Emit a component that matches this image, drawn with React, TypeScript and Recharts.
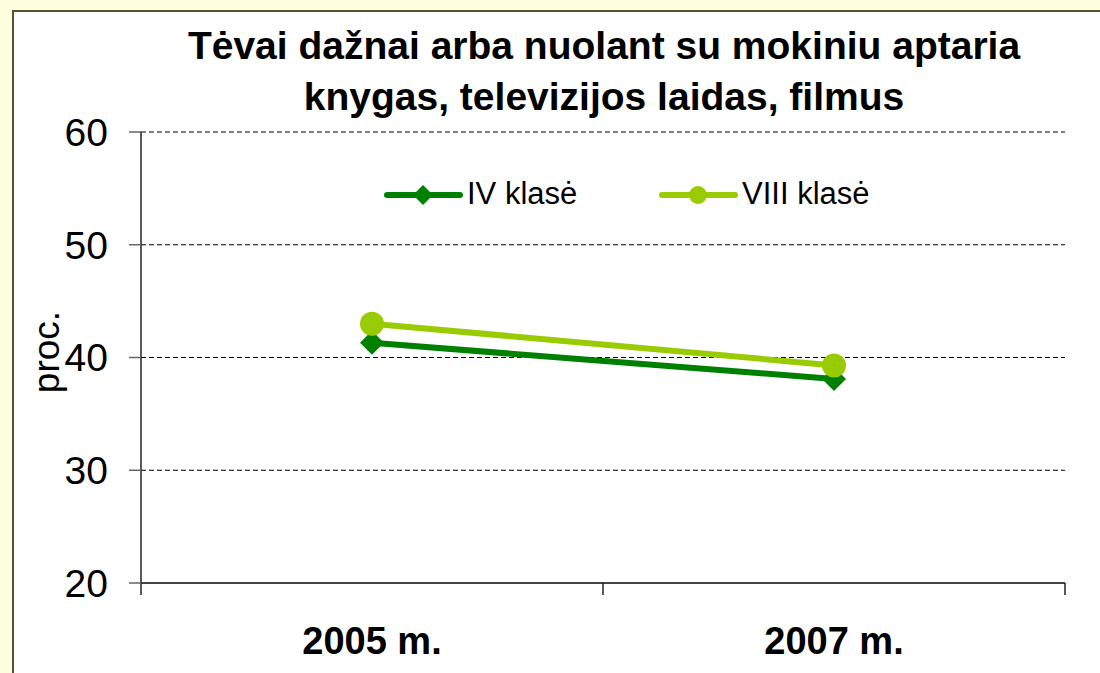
import React from 'react';
import { LineChart, Line, XAxis, YAxis, CartesianGrid, Legend } from 'recharts';

const categories = ['2005 m.', '2007 m.'];
const ivKlase = [41.3, 38.1];
const viiiKlase = [43.0, 39.3];
const yTicks = [20, 30, 40, 50, 60];
const seriesNames = ['IV klasė', 'VIII klasė'];
const seriesColors = ['#008000', '#99CC00'];
const titleLines = ['Tėvai dažnai arba nuolant su mokiniu aptaria', 'knygas, televizijos laidas, filmus'];
const yLabel = 'proc.';

const FONT = '"Liberation Sans", Arial, sans-serif';

const rows = categories.map((c, i) => ({ x: i + 0.5, cat: c, iv: ivKlase[i], viii: viiiKlase[i] }));

const Diamond = (props: any) => {
  const { cx, cy, fill } = props;
  if (cx == null || cy == null) return null;
  const r = 12;
  return <polygon points={`${cx},${cy - r} ${cx + r},${cy} ${cx},${cy + r} ${cx - r},${cy}`} fill={fill} />;
};
const CircleDot = (props: any) => {
  const { cx, cy, fill } = props;
  if (cx == null || cy == null) return null;
  return <circle cx={cx} cy={cy} r={12} fill={fill} />;
};

const LegendContent = () => (
  <svg width={520} height={50} style={{ overflow: 'visible', display: 'block' }}>
    {seriesNames.map((n, i) => {
      const x0 = i * 275 + 7;
      const mx = x0 + 36;
      return (
        <g key={n}>
          <line x1={x0} y1={25} x2={x0 + 73} y2={25} stroke={seriesColors[i]} strokeWidth={6} strokeLinecap="round" />
          {i === 0 ? (
            <polygon points={`${mx},${25 - 10} ${mx + 10},${25} ${mx},${25 + 10} ${mx - 10},${25}`} fill={seriesColors[i]} />
          ) : (
            <circle cx={mx} cy={25} r={9} fill={seriesColors[i]} />
          )}
          <text x={x0 + 80} y={34} fontSize={31} fontFamily={FONT} fill="#000">{n}</text>
        </g>
      );
    })}
  </svg>
);

export default function App() {
  return (
    <div style={{ position: 'absolute', left: 0, top: 0, width: 1100, height: 673, overflow: 'hidden', background: '#FFFFE0', fontFamily: FONT }}>
      <div style={{ position: 'absolute', left: 12, top: 10, width: 1200, height: 800, background: '#fff', border: '2px solid #55552a' }} />
      <div style={{ position: 'absolute', left: 0, top: 20, width: 1208, textAlign: 'center', fontWeight: 'bold', fontSize: 39, lineHeight: '51px', color: '#000' }}>
        {titleLines.map((t) => (<div key={t}>{t}</div>))}
      </div>
      <div style={{ position: 'absolute', left: 47, top: 352, width: 0, height: 0 }}>
        <div style={{ position: 'absolute', left: -100, top: -22, width: 200, height: 44, lineHeight: '44px', textAlign: 'center', fontSize: 37, transform: 'rotate(-90deg)', color: '#000' }}>
          {yLabel}
        </div>
      </div>
      <div style={{ position: 'absolute', left: 0, top: 0 }}>
        <LineChart width={1100} height={673} data={rows} margin={{ top: 132, right: 35, bottom: 0, left: 0 }}>
          <CartesianGrid xAxisId="a" horizontal vertical={false} stroke="#000" strokeDasharray="5 3" />
          <XAxis
            xAxisId="a"
            dataKey="x"
            type="number"
            domain={[0, 2]}
            ticks={[0, 1, 2]}
            tickFormatter={() => ''}
            tickSize={12}
            height={12}
            axisLine={{ stroke: '#444', strokeWidth: 2 }}
            tickLine={{ stroke: '#222', strokeWidth: 1.5 }}
          />
          <XAxis
            xAxisId="b"
            dataKey="x"
            type="number"
            domain={[0, 2]}
            ticks={[0.5, 1.5]}
            tickFormatter={(v: number) => categories[Math.floor(v)]}
            tickSize={0}
            tickMargin={32}
            height={78}
            axisLine={false}
            tickLine={false}
            tick={{ fontSize: 38, fontWeight: 'bold', fill: '#000', fontFamily: FONT }}
          />
          <YAxis
            type="number"
            domain={[20, 60]}
            ticks={yTicks}
            width={141}
            tickSize={12}
            tickMargin={21}
            axisLine={{ stroke: '#222', strokeWidth: 1.5 }}
            tickLine={{ stroke: '#666', strokeWidth: 1.5 }}
            tick={{ fontSize: 39, fill: '#000', fontFamily: FONT }}
            interval={0}
          />
          <Legend
            layout="horizontal"
            verticalAlign="middle"
            align="center"
            content={<LegendContent />}
            wrapperStyle={{ position: 'absolute', top: 170, left: 380, width: 520, height: 50 }}
          />
          <Line
            xAxisId="a"
            type="linear"
            dataKey="iv"
            name={seriesNames[0]}
            stroke={seriesColors[0]}
            fill={seriesColors[0]}
            strokeWidth={6}
            dot={<Diamond />}
            activeDot={false}
            isAnimationActive={false}
          />
          <Line
            xAxisId="a"
            type="linear"
            dataKey="viii"
            name={seriesNames[1]}
            stroke={seriesColors[1]}
            fill={seriesColors[1]}
            strokeWidth={6}
            dot={<CircleDot />}
            activeDot={false}
            isAnimationActive={false}
          />
        </LineChart>
      </div>
    </div>
  );
}
